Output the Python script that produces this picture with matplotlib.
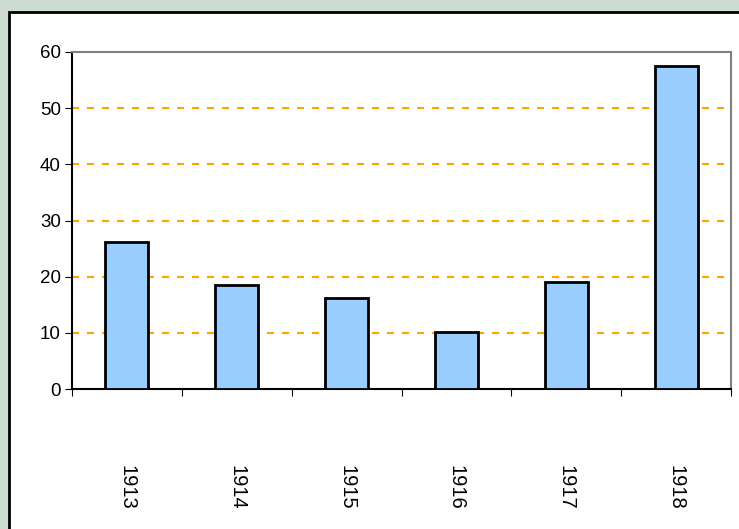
import matplotlib.pyplot as plt
from matplotlib.patches import Rectangle

# data
years = ['1913', '1914', '1915', '1916', '1917', '1918']
values = [26.2, 18.5, 16.2, 10.1, 19.0, 57.5]

plt.rcParams['font.family'] = ['Liberation Sans', 'DejaVu Sans']

W, H = 739, 529
fig = plt.figure(figsize=(W / 100, H / 100), dpi=100)
fig.patch.set_facecolor('#cddbd3')

# white panel with black frame, running past right and bottom edges
fig.patches.append(Rectangle((8.5 / W, -0.1), 1, 1.1 - 12.5 / H, transform=fig.transFigure,
                             facecolor='white', edgecolor='black', linewidth=2, zorder=-5))

ax = fig.add_axes([72 / W, (H - 389) / H, (731 - 72) / W, (389 - 52) / H])
ax.set_zorder(5)
ax.set_facecolor('white')
x = range(len(years))
ax.bar(x, values, width=0.39, color='#99ccff', edgecolor='black', linewidth=2, zorder=3)

ax.set_xlim(-0.5, len(years) - 0.5)
ax.set_ylim(0, 60)
ax.set_yticks(range(0, 61, 10))
for v in range(10, 60, 10):
    ax.axhline(v, color='#ffa500', linestyle=(0, (3.4, 3.8)), linewidth=1.5, zorder=1)

ax.set_xticks([i - 0.5 for i in range(len(years) + 1)])
ax.set_xticklabels([])
ax.set_xticks(list(x), minor=True)
ax.set_xticklabels(years, minor=True, rotation=-90, fontsize=14.5)
ax.tick_params(axis='x', which='minor', length=0, pad=55)
ax.tick_params(axis='x', which='major', direction='out', length=5, color='black')
ax.tick_params(axis='y', direction='out', length=5, labelsize=13.5, pad=3)

ax.spines['left'].set_color('black')
ax.spines['bottom'].set_color('black')
ax.spines['top'].set_color('#808080')
ax.spines['right'].set_color('#808080')
for s in ax.spines.values():
    s.set_linewidth(1.5)

plt.savefig('out.png', dpi=100, facecolor=fig.get_facecolor())
